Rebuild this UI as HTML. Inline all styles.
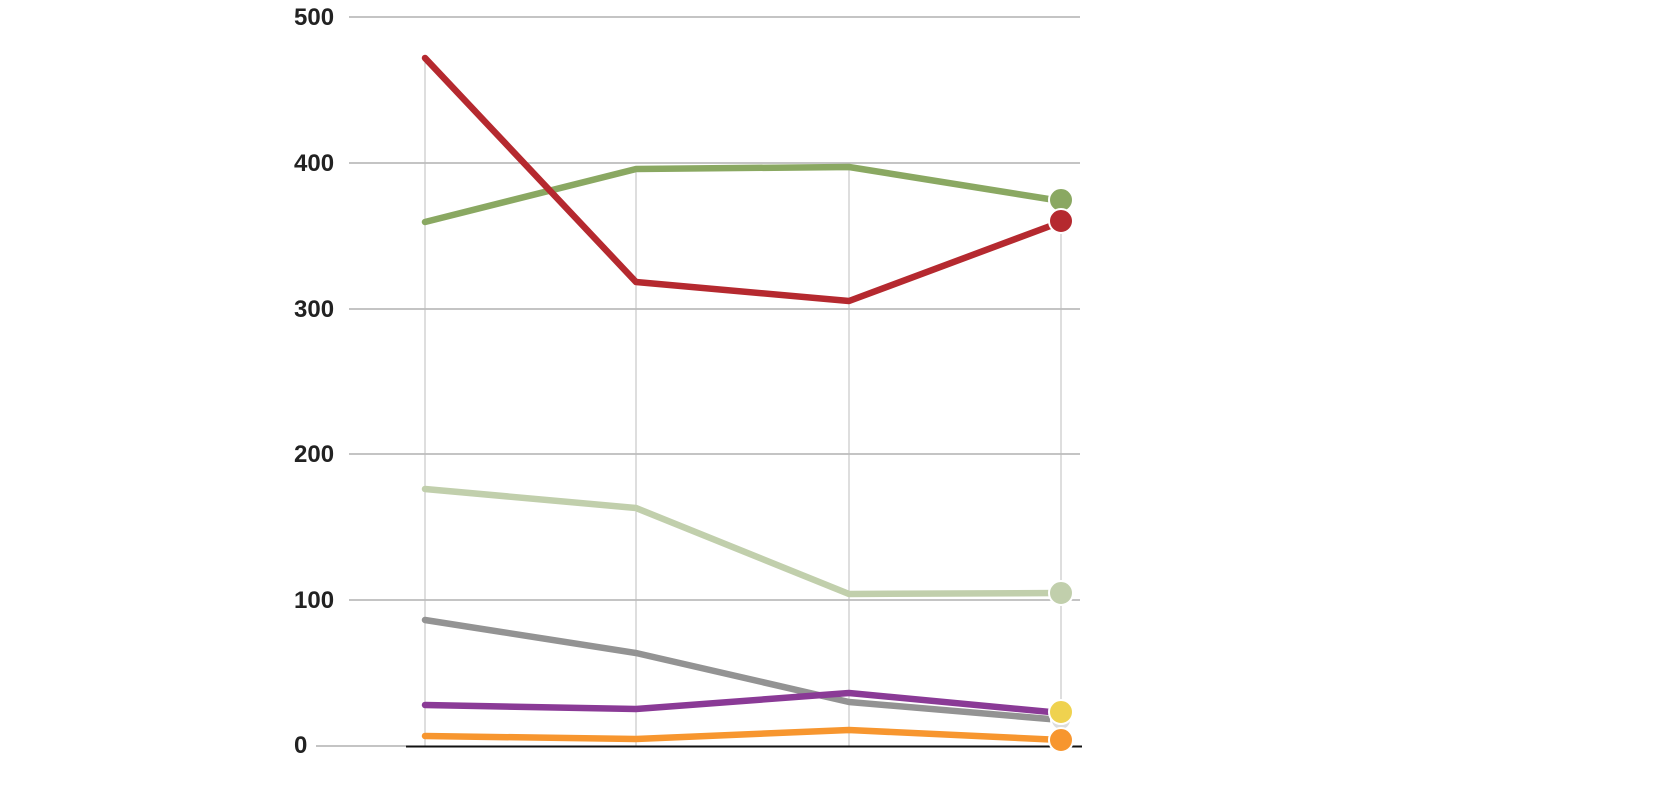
<!DOCTYPE html>
<html><head><style>
html,body{margin:0;padding:0;background:#fff;}
svg{display:block;}
text{font-family:"Liberation Sans",sans-serif;font-weight:bold;font-size:24px;fill:#222;}
</style></head><body>
<svg width="1660" height="802" viewBox="0 0 1660 802">
<g stroke="#b0b0b0" stroke-width="1.5">
<line x1="349" y1="17" x2="1080" y2="17"/>
<line x1="349" y1="163" x2="1080" y2="163"/>
<line x1="349" y1="309" x2="1080" y2="309"/>
<line x1="349" y1="454" x2="1080" y2="454"/>
<line x1="349" y1="600" x2="1080" y2="600"/>
<line x1="316" y1="746" x2="406" y2="746"/>
</g>
<g stroke="#bdbdbd" stroke-width="1">
<line x1="425" y1="58" x2="425" y2="746"/>
<line x1="636" y1="168" x2="636" y2="746"/>
<line x1="849" y1="167" x2="849" y2="746"/>
<line x1="1061" y1="200" x2="1061" y2="746"/>
</g>
<line x1="406" y1="746.5" x2="1082" y2="746.5" stroke="#111" stroke-width="2"/>
<g text-anchor="start">
<text x="294" y="25">500</text>
<text x="294" y="171">400</text>
<text x="294" y="317">300</text>
<text x="294" y="462">200</text>
<text x="294" y="608">100</text>
<text x="294" y="753">0</text>
</g>
<g fill="none" stroke-width="6.5" stroke-linecap="round" stroke-linejoin="round">
<polyline stroke="#c1cfac" points="425,489 636,508 849,594 1061,593"/>
<polyline stroke="#939393" points="425,620 636,653 849,702 1061,720"/>
<polyline stroke="#8a3a96" points="425,705 636,709 849,693 1061,713"/>
<polyline stroke="#f7962f" points="425,736 636,739 849,730 1061,740"/>
<polyline stroke="#8aa862" points="425,222 636,169 849,167 1061,201"/>
<polyline stroke="#b5292f" points="425,58 636,282 849,301 1061,222"/>
</g>
<g stroke="#fff" stroke-width="2">
<circle cx="1061" cy="720" r="10" fill="#ddd"/>
<circle cx="1061" cy="712" r="12" fill="#efd24f"/>
<circle cx="1061" cy="740" r="12" fill="#f7962f"/>
<circle cx="1061" cy="593" r="12" fill="#c1cfac"/>
<circle cx="1061" cy="200" r="12" fill="#8aa862"/>
<circle cx="1061" cy="221" r="12" fill="#b5292f"/>
</g>
</svg>
</body></html>
